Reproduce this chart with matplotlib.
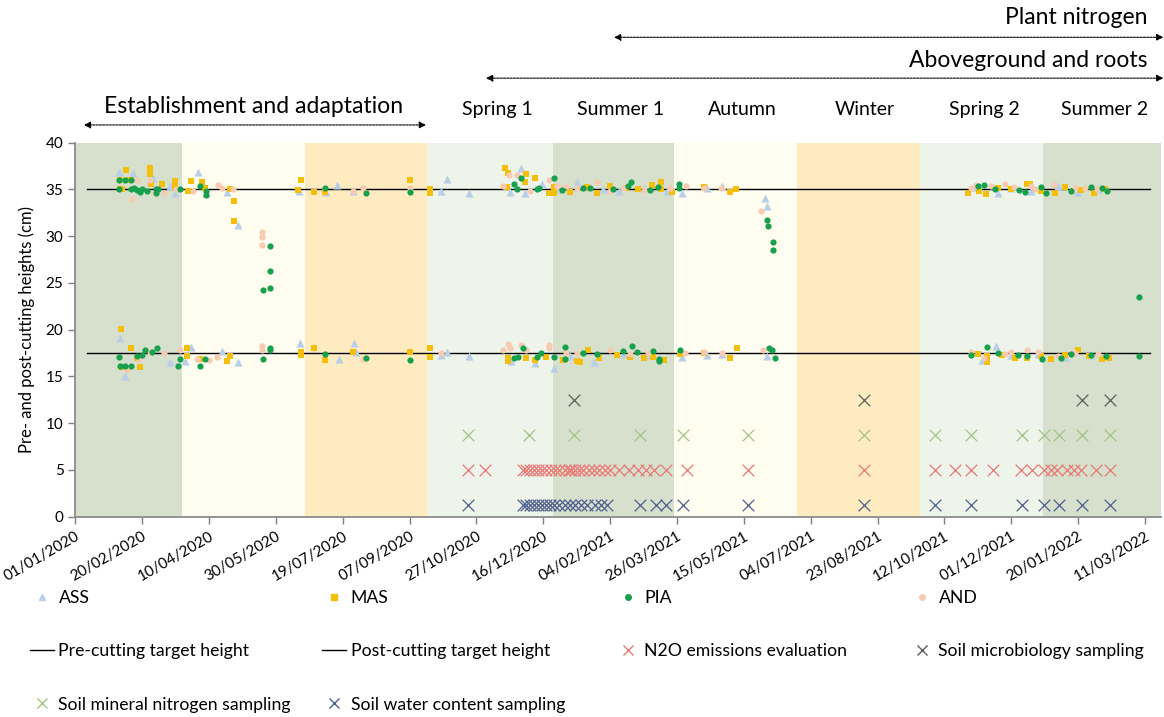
import numpy as np
import pandas as pd
import matplotlib
matplotlib.use('Agg')
import matplotlib.pyplot as plt
from matplotlib.lines import Line2D

plt.rcParams['font.family'] = ['Lato', 'DejaVu Sans']

# Trial start (days are counted from this date)
start = pd.Timestamp('2020-01-01')

# ASS (triangles): trial day, height (cm)
ass_day = [32.7, 43.2, 58, 70.9, 74.6, 91.6, 97.6, 113.3, 122, 167.4, 187.4, 195.7, 207.9, 273.7, 278,
           294.2, 324.9, 333.4, 336.5, 349.1, 360, 375.3, 395, 406.4, 425, 442.7, 453.9, 472.6, 483.8,
           516.2, 517.5, 672, 690, 700, 715, 735, 750, 765,
           33.5, 37.2, 70.9, 82.1, 86.4, 109.6, 122, 168.2, 196.9, 208.8, 210, 273.7, 278, 294.2, 325.9,
           344, 358.3, 370, 387.7, 410, 430, 453.9, 472.6, 483.8, 517.5, 678.4, 688.5, 700, 720, 740, 760]
ass_h = [36.9, 36.8, 36.2, 35.4, 34.6, 36.9, 34.6, 34.7, 31.2, 34.8, 34.7, 35.5, 34.8, 34.8, 36.1,
         34.6, 34.7, 37.3, 34.6, 35.6, 35.0, 35.8, 35.0, 34.8, 35.1, 34.8, 34.6, 35.2, 35.4,
         34.1, 33.2, 35.3, 34.6, 35.2, 34.8, 35.4, 34.7, 35.0,
         19.1, 15.0, 16.5, 16.6, 18.2, 17.7, 16.5, 18.6, 16.9, 18.6, 17.6, 17.3, 17.6, 17.2, 16.6,
         16.4, 15.9, 17.2, 16.5, 17.4, 17.3, 17.1, 17.3, 17.4, 17.2, 16.8, 18.3, 17.3, 17.4, 17.1, 17.3]

# MAS (squares)
mas_day = [33.5, 33.5, 35, 38, 40, 41.5, 55.9, 55.9, 56.4, 64.7, 74.5, 74.5, 84.4, 86.4, 94.6, 97.1,
           115.8, 119, 119, 166.7, 168.9, 178.7, 186.9, 250, 265.5, 265.5, 321.6, 323.4, 322.5, 337.4,
           336.5, 344.1, 354, 357.8, 358, 370, 383, 390, 400, 412, 421, 431, 438, 438, 446, 470, 489.5,
           494.5, 668, 676, 681, 690, 700, 712, 714, 722, 733, 740, 752, 762, 770,
           34.2, 35.2, 41.5, 48.4, 46, 83.8, 83.8, 93.3, 113.3, 115.8, 168.9, 168.9, 178.7, 186.9, 207.9,
           250, 265.5, 265.5, 323.4, 323.4, 337, 344, 352, 365, 377.8, 375, 383.5, 392, 405, 415, 425,
           432, 440, 452, 470, 490, 495, 675, 682, 681.7, 693, 703, 712, 722, 730, 740, 750, 758, 768, 773]
mas_h = [36.0, 35.0, 35.0, 37.1, 36.0, 36.0, 37.3, 36.7, 35.6, 35.6, 35.9, 35.3, 34.8, 35.9, 35.8, 35.2,
         35.0, 33.8, 31.6, 34.9, 36.0, 34.7, 34.7, 36.0, 35.0, 34.6, 37.3, 36.8, 35.3, 36.7,
         35.8, 36.2, 34.6, 35.3, 34.6, 34.7, 35.3, 34.6, 35.4, 35.1, 35.0, 35.5, 35.8, 35.0, 34.7, 35.3, 34.7,
         35.0, 34.6, 34.8, 34.5, 35.2, 35.0, 35.6, 35.6, 34.8, 34.6, 35.3, 34.9, 34.6, 35.0,
         20.1, 16.0, 18.0, 16.0, 17.0, 18.0, 17.2, 16.9, 16.6, 17.2, 17.6, 17.3, 18.0, 16.8, 17.6,
         17.6, 18.0, 17.1, 17.0, 16.7, 17.0, 16.8, 17.1, 16.8, 16.5, 16.7, 17.8, 17.0, 17.3, 17.1, 17.0,
         17.1, 16.8, 17.4, 17.5, 17.0, 18.0, 17.4, 17.2, 16.5, 17.3, 17.0, 17.0, 17.2, 16.9, 17.3, 17.8, 17.2, 16.9, 17.0]

# PIA (green circles)
pia_day = [32.9, 32.9, 37, 41.7, 42, 44, 46.2, 48.5, 50, 53.7, 60.4, 60.4, 62, 78.4, 93.3, 97.6, 97.6,
           145.7, 145.7, 145.7, 140.7, 186.9, 217.6, 250, 328.4, 330, 333.6, 345, 347, 357.8, 364, 380,
           385, 402, 413, 415.7, 430, 436, 451.3, 451.3, 517.5, 518.3, 521.7, 521.7, 675, 680, 688, 706,
           710, 722, 726, 745, 760, 768, 772,
           32.9, 33.5, 37, 41.7, 46, 50, 52.2, 57, 60.9, 77.1, 78.4, 93.3, 97.1, 140.7, 145.7, 145.7,
           186.9, 217.6, 250, 328.4, 331, 334.6, 345, 348, 357.8, 366.5, 366.5, 380, 390, 410, 416.5,
           420, 432, 436.4, 436.4, 452.6, 518.7, 521, 523, 670, 681.7, 690, 705, 712, 723, 737, 745,
           760, 771, 795.2, 795.2]
pia_h = [36.0, 35.0, 36.0, 36.0, 35.0, 35.2, 34.9, 34.7, 35.0, 34.8, 35.0, 34.6, 35.0, 35.0, 35.4, 34.8, 34.4,
         28.9, 26.3, 24.5, 24.2, 35.2, 34.6, 34.7, 35.6, 35.0, 36.2, 35.0, 35.1, 36.2, 34.9, 35.1,
         35.2, 35.0, 35.4, 35.8, 34.9, 35.3, 35.6, 35.1, 31.7, 31.1, 29.4, 28.5, 35.4, 35.5, 35.0, 34.9,
         34.7, 35.3, 34.6, 34.8, 35.3, 35.2, 34.8,
         17.1, 16.1, 16.1, 16.1, 17.2, 17.3, 17.8, 17.6, 18.0, 16.1, 16.9, 16.1, 16.9, 16.9, 17.8, 18.0,
         17.4, 17.0, 16.8, 17.0, 17.1, 18.0, 17.1, 17.5, 17.1, 18.1, 16.9, 17.5, 17.4, 17.7, 18.3,
         17.6, 17.7, 16.9, 16.7, 17.8, 18.0, 17.8, 17.0, 17.3, 18.2, 17.5, 17.3, 17.2, 16.9, 17.0, 17.4,
         17.3, 17.2, 17.2, 23.5]

# AND (pink circles)
and_day = [42.2, 46, 56, 66, 75, 88, 106.6, 110, 118, 139.7, 139.7, 139.7, 207.9, 215.3, 250, 320, 324,
           330, 340, 354, 360, 367, 375, 390, 400, 410, 425, 445, 457, 470, 483, 513, 670, 674, 685, 695,
           702, 715, 718, 732, 748, 755, 764,
           38.5, 48, 56, 66, 78, 91, 100, 106, 139.7, 139.7, 215, 273.7, 320, 323.4, 325, 333.6, 337,
           354, 354, 367, 375, 400, 415, 428, 456, 470, 484, 514, 670, 680, 695, 700, 712, 720, 735, 748, 765]
and_h = [34.0, 36.0, 36.0, 34.6, 35.0, 34.8, 35.5, 35.1, 35.0, 30.5, 29.9, 29.1, 34.8, 35.2, 35.1, 35.4, 36.5,
         36.5, 34.8, 36.0, 35.4, 35.4, 35.1, 35.8, 34.8, 35.1, 34.9, 35.2, 35.4, 35.2, 35.1, 32.7, 35.2, 35.5,
         35.4, 35.6, 35.3, 35.4, 35.0, 35.5, 35.2, 35.1, 35.0,
         15.7, 16.9, 17.6, 17.5, 17.8, 16.9, 16.8, 17.1, 18.3, 17.8, 16.9, 17.5, 17.8, 18.5, 18.0, 18.4, 17.8,
         18.4, 18.0, 17.5, 17.5, 17.8, 17.4, 17.5, 17.5, 17.6, 17.5, 17.8, 17.6, 17.0, 17.4, 17.6, 17.8, 17.6,
         17.2, 17.5, 17.4]

# Target heights (cm) and the span of the target lines (trial days)
pre_target = 35
post_target = 17.5
target_span = [8.8, 803.7]

# Sampling events (trial days) and the level they are drawn at
n2o_day = [294, 306.7, 335, 337, 340, 343, 346, 349, 352, 356, 359, 362, 366, 369, 371, 374, 377, 380,
           384, 388, 392, 396, 400, 407, 414, 421, 427, 433, 442, 457.6, 503, 589.8, 643, 657.7, 669.7,
           686.7, 707.1, 715.9, 724.6, 729.6, 734.6, 742, 747, 752.2, 763.4, 773.7]
micro_day = [372.8, 589.8, 752.8, 773.7]
mineral_day = [294, 339, 372.8, 422, 454.6, 503, 589.8, 643, 669.7, 707.9, 724.6, 735.8, 752.8, 773.7]
water_day = [294, 335, 337, 340, 343, 346, 349, 352, 355, 358, 362, 366, 370, 374, 378, 383, 389, 393,
             398, 422, 434, 442, 454.6, 503, 589.8, 643, 669.7, 707.9, 724.6, 735.8, 752.8, 773.7]
n2o_level, micro_level, mineral_level, water_level = 5, 12.5, 8.75, 1.25

# Season background bands
band_edges = ['2020-01-01', '2020-03-21', '2020-06-21', '2020-09-20', '2020-12-23',
              '2021-03-24', '2021-06-24', '2021-09-24', '2021-12-25', '2022-03-23']
band_colors = ['#d6e0cd', '#fffcf0', '#feebbf', '#eef4ea',
               '#d6e0cd', '#fffcf0', '#feebbf', '#eef4ea', '#d6e0cd']

tick_labels = ['01/01/2020', '20/02/2020', '10/04/2020', '30/05/2020', '19/07/2020', '07/09/2020',
               '27/10/2020', '16/12/2020', '04/02/2021', '26/03/2021', '15/05/2021', '04/07/2021',
               '23/08/2021', '12/10/2021', '01/12/2021', '20/01/2022', '11/03/2022']

seasons = ['Spring 1', 'Summer 1', 'Autumn', 'Winter', 'Spring 2', 'Summer 2']
season_x = [0.427, 0.533, 0.6375, 0.743, 0.846, 0.949]


def to_date(days):
    return start + pd.to_timedelta(np.asarray(days, dtype=float), unit='D')


fig = plt.figure(figsize=(11.64, 7.17), dpi=100)
ax = fig.add_axes([0.0647, 0.2794, 0.9327, 0.5216])

for i, c in enumerate(band_colors):
    ax.axvspan(pd.Timestamp(band_edges[i]), pd.Timestamp(band_edges[i + 1]), color=c, lw=0, zorder=0)

ax.plot(to_date(target_span), [pre_target] * 2, color='black', lw=1, zorder=2)
ax.plot(to_date(target_span), [post_target] * 2, color='black', lw=1, zorder=2)

ax.scatter(to_date(ass_day), ass_h, marker='^', s=34, color='#b9cfe6', lw=0, zorder=3)
ax.scatter(to_date(mas_day), mas_h, marker='s', s=22, color='#f4bf0a', lw=0, zorder=3)
ax.scatter(to_date(pia_day), pia_h, marker='o', s=20, color='#17a04d', lw=0, zorder=4)
ax.scatter(to_date(and_day), and_h, marker='o', s=20, color='#f6cbb2', lw=0, zorder=3)

cross = dict(marker='x', s=70, linewidths=0.9, zorder=3)
ax.scatter(to_date(micro_day), [micro_level] * len(micro_day), color='#5a5f5a', **cross)
ax.scatter(to_date(mineral_day), [mineral_level] * len(mineral_day), color='#a3c585', **cross)
ax.scatter(to_date(n2o_day), [n2o_level] * len(n2o_day), color='#e87a76', **cross)
ax.scatter(to_date(water_day), [water_level] * len(water_day), color='#4f5f8e', **cross)

ax.set_xlim(pd.Timestamp(band_edges[0]), pd.Timestamp(band_edges[-1]))
ax.set_ylim(0, 40)
ax.set_yticks(range(0, 41, 5))
ax.set_xticks([pd.to_datetime(t, format='%d/%m/%Y') for t in tick_labels])
ax.set_xticklabels(tick_labels, rotation=30, ha='right', rotation_mode='anchor')
ax.tick_params(axis='both', colors='#808080', labelcolor='black', labelsize=11, length=5, width=1)
ax.tick_params(axis='x', pad=4)
for s in ['top', 'right']:
    ax.spines[s].set_visible(False)
for s in ['left', 'bottom']:
    ax.spines[s].set_color('#8c8c8c')
    ax.spines[s].set_linewidth(1.3)
ax.set_ylabel('Pre- and post-cutting heights (cm)', fontsize=12, labelpad=8)

# Top annotations
arrow = dict(arrowstyle='<|-|>', color='black', lw=0.8, linestyle=(0, (2, 1)),
             mutation_scale=10, shrinkA=0, shrinkB=0)
ax.annotate('', xy=(0.5275, 0.948), xytext=(0.9995, 0.948), xycoords='figure fraction', arrowprops=arrow)
ax.annotate('', xy=(0.4175, 0.891), xytext=(0.9995, 0.891), xycoords='figure fraction', arrowprops=arrow)
ax.annotate('', xy=(0.072, 0.8257), xytext=(0.366, 0.8257), xycoords='figure fraction', arrowprops=arrow)
fig.text(0.9854, 0.975, 'Plant nitrogen', ha='right', va='center', fontsize=16.5)
fig.text(0.986, 0.916, 'Aboveground and roots', ha='right', va='center', fontsize=16.5)
fig.text(0.218, 0.852, 'Establishment and adaptation', ha='center', va='center', fontsize=16.6)
for name, x in zip(seasons, season_x):
    fig.text(x, 0.8466, name, ha='center', va='center', fontsize=14)

# Legend, four columns
def mk(marker, color, size=4):
    return Line2D([], [], ls='none', marker=marker, color=color, markersize=size, mew=1)

line_h = Line2D([], [], color='black', lw=1)
columns = [
    ([mk('^', '#b9cfe6'), line_h, mk('x', '#a3c585', 7)],
     ['ASS', 'Pre-cutting target height', 'Soil mineral nitrogen sampling'], 0.026),
    ([mk('s', '#f4bf0a'), line_h, mk('x', '#4f5f8e', 7)],
     ['MAS', 'Post-cutting target height', 'Soil water content sampling'], 0.277),
    ([mk('o', '#17a04d'), mk('x', '#e87a76', 7)],
     ['PIA', 'N2O emissions evaluation'], 0.529),
    ([mk('o', '#f6cbb2'), mk('x', '#5a5f5a', 7)],
     ['AND', 'Soil microbiology sampling'], 0.782),
]
for handles, labels, x in columns:
    fig.legend(handles, labels, loc='upper left', bbox_to_anchor=(x, 0.1775), frameon=False,
               fontsize=12.7, handlelength=1.35, handletextpad=0.25, labelspacing=2.12,
               borderpad=0, borderaxespad=0)

fig.savefig('out.png', dpi=100)
